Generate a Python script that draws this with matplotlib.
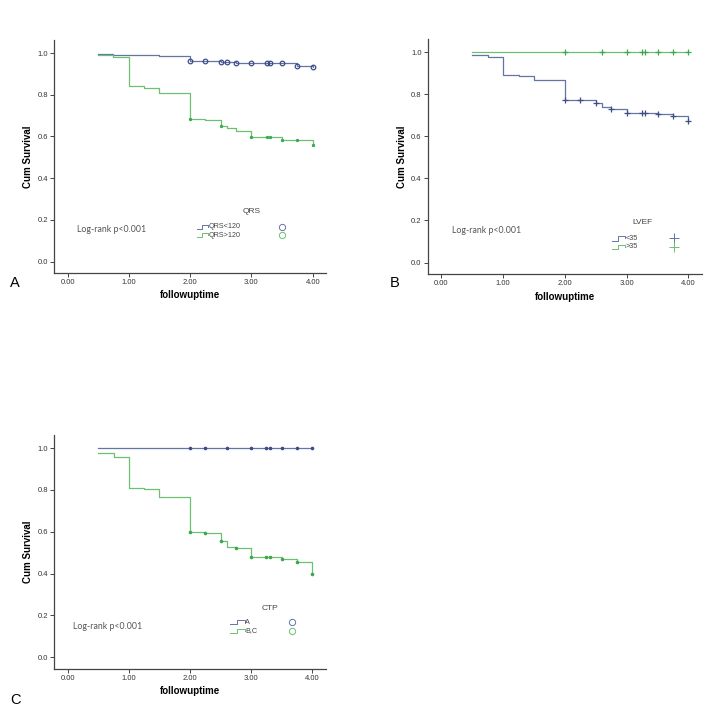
#!/usr/bin/env python3
"""Kaplan-Meier panels A/B/C (QRS, LVEF, CTP)"""

import numpy as np
import matplotlib
matplotlib.use("Agg")
import matplotlib.pyplot as plt

plt.rcParams['font.family'] = ['Liberation Sans', 'DejaVu Sans']

BLUE = '#6474a4'
BLUE_MK = '#3d4d88'
GREEN = '#6cc070'
GREEN_MK = '#3fa84f'

# --- Panel A: QRS ---
qrs_lo_t = [0.5, 0.75, 1.5, 2.0, 2.5, 2.75, 3.75, 4.0]
qrs_lo_s = [0.997, 0.99, 0.985, 0.962, 0.957, 0.952, 0.94, 0.932]
qrs_lo_cens = [2.0, 2.25, 2.5, 2.6, 2.75, 3.0, 3.25, 3.3, 3.5, 3.75, 4.0]
qrs_hi_t = [0.5, 0.75, 1.0, 1.25, 1.5, 2.0, 2.25, 2.5, 2.6, 2.75, 3.0, 3.5, 4.0]
qrs_hi_s = [0.989, 0.98, 0.842, 0.832, 0.808, 0.686, 0.678, 0.652, 0.64, 0.628,
            0.595, 0.585, 0.558]
qrs_hi_cens = [2.0, 2.5, 3.0, 3.25, 3.3, 3.5, 3.75, 4.0]

# --- Panel B: LVEF ---
lvef_lo_t = [0.5, 0.75, 1.0, 1.25, 1.5, 2.0, 2.5, 2.6, 2.75, 3.0, 3.5, 3.75, 4.0]
lvef_lo_s = [0.988, 0.978, 0.893, 0.887, 0.868, 0.775, 0.757, 0.74, 0.73, 0.71,
             0.705, 0.697, 0.672]
lvef_lo_cens = [2.0, 2.25, 2.5, 2.75, 3.0, 3.25, 3.3, 3.5, 3.75, 4.0]
lvef_hi_t = [0.5, 4.0]
lvef_hi_s = [1.0, 1.0]
lvef_hi_cens = [2.0, 2.6, 3.0, 3.25, 3.3, 3.5, 3.75, 4.0]

# --- Panel C: CTP ---
ctp_a_t = [0.5, 4.0]
ctp_a_s = [1.0, 1.0]
ctp_a_cens = [2.0, 2.25, 2.6, 3.0, 3.25, 3.3, 3.5, 3.75, 4.0]
ctp_bc_t = [0.5, 0.75, 1.0, 1.25, 1.5, 2.0, 2.25, 2.5, 2.6, 2.75, 3.0, 3.5, 3.75, 4.0]
ctp_bc_s = [0.975, 0.958, 0.81, 0.803, 0.766, 0.60, 0.593, 0.556, 0.528, 0.52,
            0.48, 0.468, 0.455, 0.40]
ctp_bc_cens = [2.0, 2.25, 2.5, 2.75, 3.0, 3.25, 3.3, 3.5, 3.75, 4.0]

x_ticks = [0, 1, 2, 3, 4]
y_ticks = [0.0, 0.2, 0.4, 0.6, 0.8, 1.0]


def km_curve(ax, t, s, cens, color, mcolor, marker, ms, filled):
    t = np.asarray(t)
    s = np.asarray(s)
    ax.step(t, s, where='post', color=color, lw=0.9)
    idx = np.searchsorted(t, cens, side='right') - 1
    ax.plot(cens, s[idx], ls='none', marker=marker, ms=ms, mew=0.9,
            mec=mcolor, mfc=mcolor if filled else 'none')


def style_axes(ax):
    ax.set_xlim(-0.22, 4.22)
    ax.set_ylim(-0.055, 1.062)
    ax.set_xticks(x_ticks)
    ax.set_xticklabels([f'{v:.2f}' for v in x_ticks])
    ax.set_yticks(y_ticks)
    ax.set_yticklabels([f'{v:.1f}' for v in y_ticks])
    for side in ('top', 'right'):
        ax.spines[side].set_visible(False)
    for side in ('left', 'bottom'):
        ax.spines[side].set_color('#444444')
        ax.spines[side].set_linewidth(0.9)
    ax.tick_params(direction='out', length=3, width=0.7, labelsize=5.5,
                   colors='#444444', labelcolor='#333333', pad=1.5)
    ax.set_xlabel('followuptime', fontsize=7, fontweight='bold', labelpad=3)
    ax.set_ylabel('Cum Survival', fontsize=7, fontweight='bold', labelpad=3)


def legend_box(ax, title, labels, colors, marker, ms, pos):
    tx, ty, ix0, ix1, mx, ys = pos
    ax.text(tx, ty, title, transform=ax.transAxes, fontsize=6,
            color='#444444', ha='center', va='center')
    h = 0.009
    for lab, col, y in zip(labels, colors, ys):
        xm = ix0 + 0.45 * (ix1 - ix0)
        ax.plot([ix0, xm, xm, ix1, ix1], [y - h, y - h, y + h, y + h, y],
                color=col, lw=0.7, transform=ax.transAxes, clip_on=False)
        ax.text(ix1 + 0.002, y, lab, transform=ax.transAxes, fontsize=5.2,
                color='#444444', ha='left', va='center')
        ax.plot([mx], [y], transform=ax.transAxes, ls='none', marker=marker,
                ms=ms, mew=0.7, mec=col, mfc='none', clip_on=False)


def logrank(ax, x, y):
    ax.text(x, y, 'Log-rank p<0.001', transform=ax.transAxes, fontsize=6.3,
            family=['Lato', 'DejaVu Sans'], color='#555555', ha='left', va='center')


fig = plt.figure(figsize=(7.07, 7.12), dpi=100)
axA = fig.add_axes([0.0764, 0.6166, 0.385, 0.327])
axB = fig.add_axes([0.605, 0.615, 0.388, 0.330])
axC = fig.add_axes([0.0768, 0.0608, 0.384, 0.328])

# A
km_curve(axA, qrs_lo_t, qrs_lo_s, qrs_lo_cens, BLUE, BLUE_MK, 'o', 3.3, False)
km_curve(axA, qrs_hi_t, qrs_hi_s, qrs_hi_cens, GREEN, GREEN_MK, 'o', 1.5, True)
style_axes(axA)
legend_box(axA, 'QRS', ['QRS<120', 'QRS>120'], [BLUE, GREEN], 'o', 4.5,
           (0.727, 0.263, 0.525, 0.566, 0.838, [0.199, 0.163]))
logrank(axA, 0.083, 0.185)

# B
km_curve(axB, lvef_lo_t, lvef_lo_s, lvef_lo_cens, BLUE, BLUE_MK, '+', 4.5, False)
km_curve(axB, lvef_hi_t, lvef_hi_s, lvef_hi_cens, GREEN, GREEN_MK, '+', 4.5, False)
style_axes(axB)
legend_box(axB, 'LVEF', ['<35', '>35'], [BLUE, GREEN], '+', 6.5,
           (0.781, 0.218, 0.672, 0.72, 0.896, [0.152, 0.116]))
logrank(axB, 0.088, 0.187)

# C
km_curve(axC, ctp_a_t, ctp_a_s, ctp_a_cens, BLUE, BLUE_MK, 'o', 1.7, True)
km_curve(axC, ctp_bc_t, ctp_bc_s, ctp_bc_cens, GREEN, GREEN_MK, 'o', 1.7, True)
style_axes(axC)
legend_box(axC, 'CTP', ['A', 'B,C'], [BLUE, GREEN], 'o', 4.5,
           (0.794, 0.258, 0.649, 0.702, 0.874, [0.199, 0.163]))
logrank(axC, 0.07, 0.18)

fig.text(10 / 707, 1 - 283 / 712, 'A', fontsize=10.5, ha='left', va='center')
fig.text(390 / 707, 1 - 283 / 712, 'B', fontsize=10.5, ha='left', va='center')
fig.text(10 / 707, 1 - 700 / 712, 'C', fontsize=10.5, ha='left', va='center')

fig.savefig('out.png', dpi=100, facecolor='white')
plt.close(fig)
